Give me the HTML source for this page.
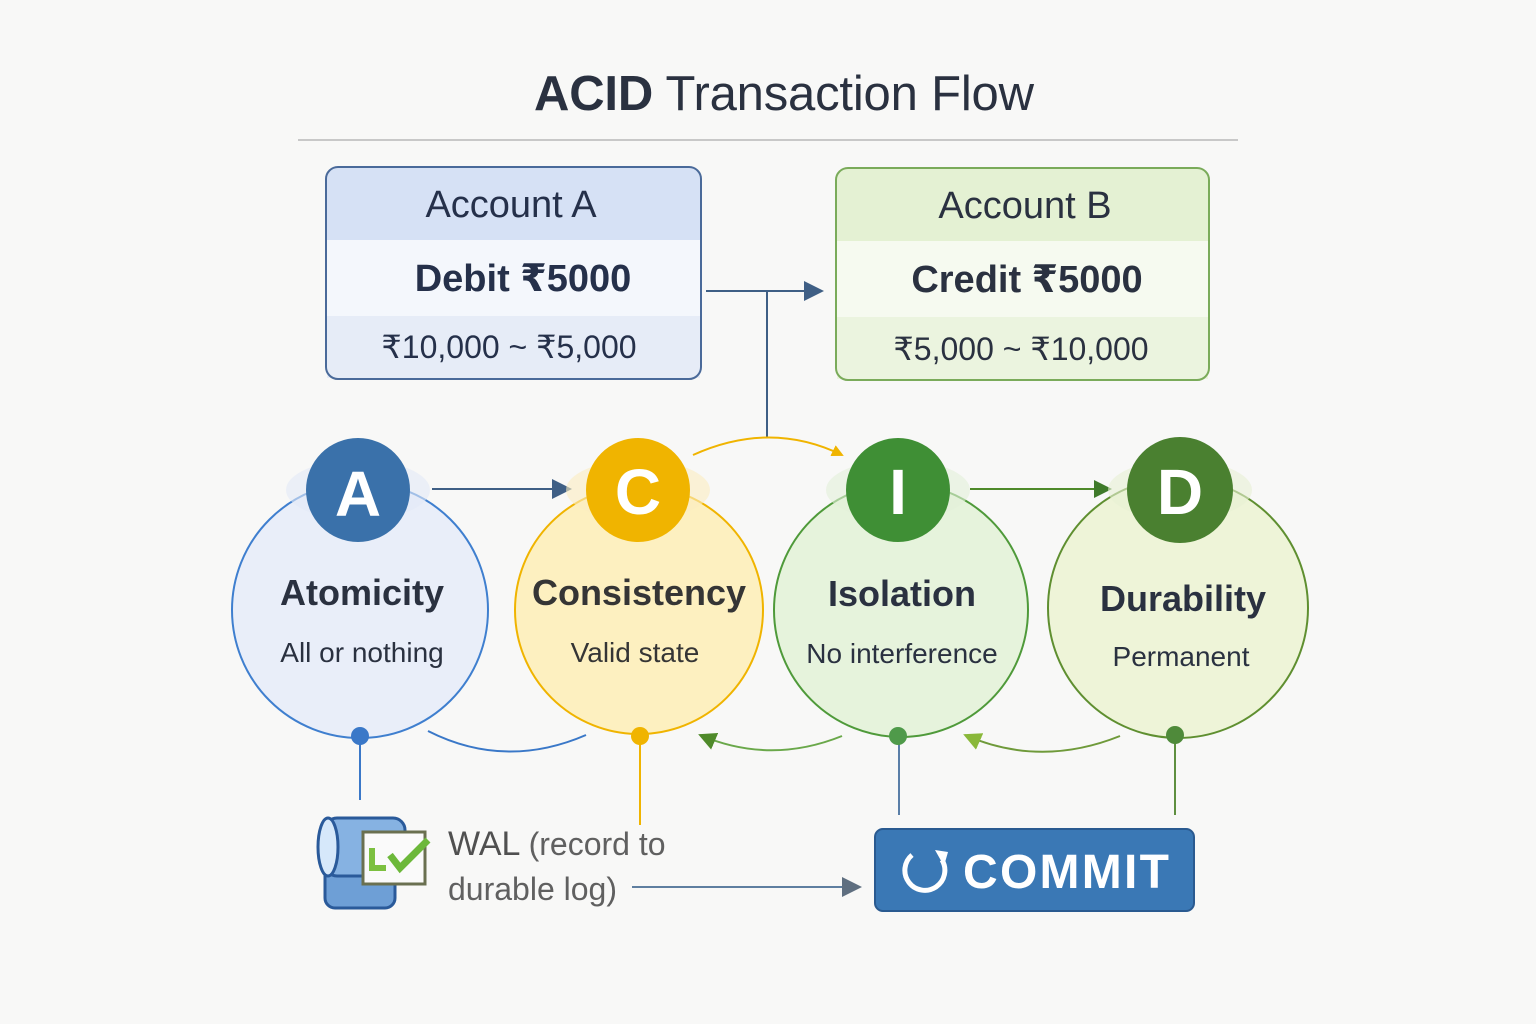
<!DOCTYPE html>
<html><head><meta charset="utf-8"><style>
body{margin:0;background:#f8f8f7;}
svg{display:block;font-family:"Liberation Sans","DejaVu Sans",sans-serif;}
</style></head><body>
<svg width="1536" height="1024" viewBox="0 0 1536 1024">
<defs>
<marker id="ay" markerWidth="12" markerHeight="12" refX="10" refY="6" orient="auto" markerUnits="userSpaceOnUse"><path d="M0,0 L12,6 L0,12z" fill="#f0b400"/></marker>
<marker id="ag" markerWidth="18" markerHeight="18" refX="16" refY="9" orient="auto" markerUnits="userSpaceOnUse"><path d="M0,0 L18,9 L0,18z" fill="#4f8a2a"/></marker>
<marker id="ag2" markerWidth="18" markerHeight="18" refX="16" refY="9" orient="auto" markerUnits="userSpaceOnUse"><path d="M0,0 L18,9 L0,18z" fill="#8ab83a"/></marker>
<marker id="ag3" markerWidth="18" markerHeight="18" refX="16" refY="9" orient="auto" markerUnits="userSpaceOnUse"><path d="M0,0 L18,9 L0,18z" fill="#3f7a2a"/></marker>
<marker id="abig" markerWidth="20" markerHeight="20" refX="18" refY="10" orient="auto" markerUnits="userSpaceOnUse"><path d="M0,0 L20,10 L0,20z" fill="#3f5f85"/></marker>
<marker id="agray" markerWidth="20" markerHeight="20" refX="18" refY="10" orient="auto" markerUnits="userSpaceOnUse"><path d="M0,0 L20,10 L0,20z" fill="#5f6f80"/></marker>
</defs>
<text x="784" y="110" text-anchor="middle" font-size="49" fill="#2a3140" textLength="500"><tspan font-weight="bold">ACID</tspan> Transaction Flow</text>
<line x1="298" y1="140" x2="1238" y2="140" stroke="#c8c8c8" stroke-width="2"/>

<rect x="326" y="167" width="375" height="212" rx="12" fill="#f4f7fc"/>
<path d="M327,240 V179 a11,11 0 0 1 11,-11 H689 a11,11 0 0 1 11,11 V240z" fill="#d6e1f5"/>
<rect x="327" y="316" width="373" height="62" fill="#e6ecf7"/>
<rect x="326" y="167" width="375" height="212" rx="12" fill="none" stroke="#4a6a9a" stroke-width="2"/>
<text x="511" y="217" text-anchor="middle" font-size="38" fill="#25304a">Account A</text>
<text x="523" y="291" text-anchor="middle" font-size="38" font-weight="bold" fill="#25304a">Debit ₹5000</text>
<text x="509" y="358" text-anchor="middle" font-size="32" fill="#25304a">₹10,000 ~ ₹5,000</text>

<rect x="836" y="168" width="373" height="212" rx="12" fill="#f6faf0"/>
<path d="M837,241 V180 a11,11 0 0 1 11,-11 H1197 a11,11 0 0 1 11,11 V241z" fill="#e4f1d3"/>
<rect x="837" y="317" width="371" height="62" fill="#ebf4df"/>
<rect x="836" y="168" width="373" height="212" rx="12" fill="none" stroke="#7aab5a" stroke-width="2"/>
<text x="1025" y="218" text-anchor="middle" font-size="38" fill="#2a3140">Account B</text>
<text x="1027" y="292" text-anchor="middle" font-size="38" font-weight="bold" fill="#2a3140">Credit ₹5000</text>
<text x="1021" y="360" text-anchor="middle" font-size="32" fill="#2a3140">₹5,000 ~ ₹10,000</text>

<line x1="706" y1="291" x2="822" y2="291" stroke="#3f5f85" stroke-width="2" marker-end="url(#abig)"/>
<line x1="767" y1="291" x2="767" y2="437" stroke="#3f5f85" stroke-width="2"/>
<path d="M693,455 Q770,420 842,455" fill="none" stroke="#f0b400" stroke-width="2" marker-end="url(#ay)"/>
<line x1="432" y1="489" x2="570" y2="489" stroke="#3f5f85" stroke-width="2" marker-end="url(#abig)"/>
<line x1="970" y1="489" x2="1110" y2="489" stroke="#4f8a2a" stroke-width="2" marker-end="url(#ag3)"/>

<circle cx="360" cy="610" r="128" fill="#e9eef9" stroke="#3f7fcf" stroke-width="2"/>
<circle cx="639" cy="610" r="124" fill="#fdf0c0" stroke="#f0b400" stroke-width="2"/>
<circle cx="901" cy="610" r="127" fill="#e6f3dc" stroke="#4f9a3a" stroke-width="2"/>
<circle cx="1178" cy="608" r="130" fill="#eef4d8" stroke="#5f8f30" stroke-width="2"/>

<g opacity="0.6">
<ellipse cx="358" cy="490" rx="72" ry="30" fill="#e3e9f6"/>
<ellipse cx="638" cy="490" rx="72" ry="30" fill="#fcecc0"/>
<ellipse cx="898" cy="490" rx="72" ry="30" fill="#e2f0d8"/>
<ellipse cx="1180" cy="490" rx="72" ry="30" fill="#e8f0d4"/>
</g>
<circle cx="358" cy="490" r="52" fill="#3a71aa"/>
<text x="358" y="516" text-anchor="middle" font-size="64" font-weight="bold" fill="#fff">A</text>
<circle cx="638" cy="490" r="52" fill="#f0b400"/>
<text x="638" y="514" text-anchor="middle" font-size="64" font-weight="bold" fill="#fff">C</text>
<circle cx="898" cy="490" r="52" fill="#3f8f35"/>
<text x="898" y="514" text-anchor="middle" font-size="64" font-weight="bold" fill="#fff">I</text>
<circle cx="1180" cy="490" r="53" fill="#4a8030"/>
<text x="1180" y="514" text-anchor="middle" font-size="64" font-weight="bold" fill="#fff">D</text>

<text x="362" y="605" text-anchor="middle" font-size="36" font-weight="bold" fill="#2a3140">Atomicity</text>
<text x="362" y="662" text-anchor="middle" font-size="28" fill="#2a3140">All or nothing</text>
<text x="639" y="605" text-anchor="middle" font-size="36" font-weight="bold" fill="#353535">Consistency</text>
<text x="635" y="662" text-anchor="middle" font-size="28" fill="#353535">Valid state</text>
<text x="902" y="606" text-anchor="middle" font-size="36" font-weight="bold" fill="#2a3140">Isolation</text>
<text x="902" y="663" text-anchor="middle" font-size="28" fill="#2a3140">No interference</text>
<text x="1183" y="611" text-anchor="middle" font-size="36" font-weight="bold" fill="#2a3140">Durability</text>
<text x="1181" y="666" text-anchor="middle" font-size="28" fill="#2a3140">Permanent</text>

<path d="M428,731 Q505,770 586,735" fill="none" stroke="#3a78c8" stroke-width="2"/>
<path d="M842,736 Q770,765 700,735" fill="none" stroke="#6aa84a" stroke-width="2" marker-end="url(#ag)"/>
<path d="M1120,736 Q1040,768 965,735" fill="none" stroke="#6f9a3a" stroke-width="2" marker-end="url(#ag2)"/>

<line x1="360" y1="736" x2="360" y2="800" stroke="#3a78c8" stroke-width="2"/>
<line x1="640" y1="736" x2="640" y2="825" stroke="#f0b400" stroke-width="2"/>
<line x1="899" y1="736" x2="899" y2="815" stroke="#5a7fa8" stroke-width="2"/>
<line x1="1175" y1="736" x2="1175" y2="815" stroke="#5f8f40" stroke-width="2"/>
<circle cx="360" cy="736" r="9" fill="#3a78c8"/>
<circle cx="640" cy="736" r="9" fill="#f0b400"/>
<circle cx="898" cy="736" r="9" fill="#4f9a4a"/>
<circle cx="1175" cy="735" r="9" fill="#4f8a3a"/>

<g stroke="#2a5a9a" stroke-width="3">
<rect x="325" y="860" width="70" height="48" rx="10" fill="#6e9fd6"/>
<rect x="325" y="818" width="80" height="58" rx="12" fill="#86b2e2"/>
<ellipse cx="328" cy="847" rx="10" ry="29" fill="#d6e8fa"/>
</g>
<rect x="363" y="832" width="62" height="52" fill="#fafafa" stroke="#6a7050" stroke-width="3"/>
<path d="M372,848 V868 H386" fill="none" stroke="#7cc040" stroke-width="6"/>
<path d="M390,855 L400,868 L428,840" fill="none" stroke="#6cb83a" stroke-width="7"/>
<text x="448" y="855" font-size="34" fill="#505050">WAL <tspan font-size="32" fill="#606060">(record to</tspan></text>
<text x="448" y="900" font-size="32" fill="#606060">durable log)</text>
<line x1="632" y1="887" x2="860" y2="887" stroke="#5f7fa0" stroke-width="2" marker-end="url(#agray)"/>

<rect x="875" y="829" width="319" height="82" rx="8" fill="#3a78b5" stroke="#2a5a90" stroke-width="2"/>
<path d="M912,855 A20,20 0 1 0 942,860" fill="none" stroke="#fff" stroke-width="5"/>
<path d="M935,850 L948,852 L944,866z" fill="#fff"/>
<text x="1066" y="888" text-anchor="middle" font-size="48" font-weight="bold" fill="#fff" textLength="206">COMMIT</text>
</svg>
</body></html>
